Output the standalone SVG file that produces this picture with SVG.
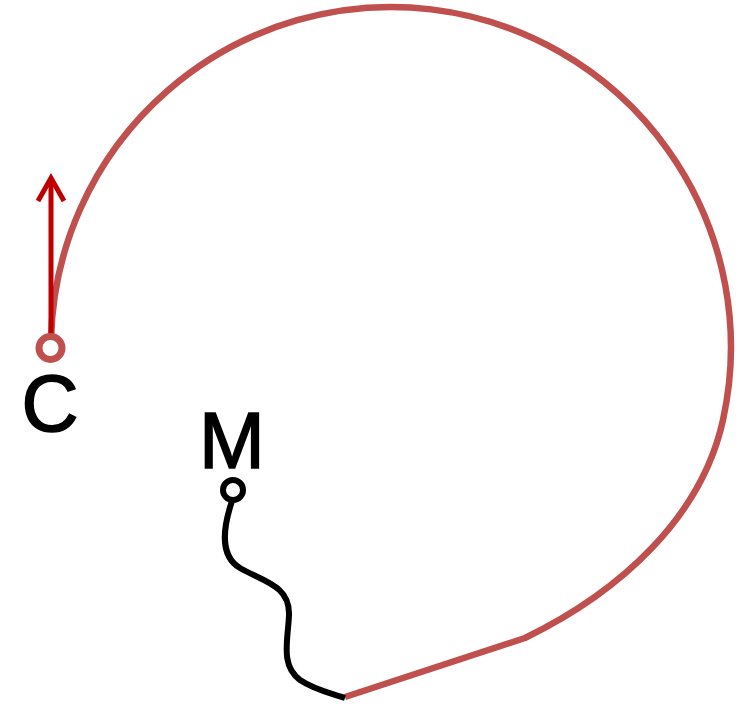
<svg xmlns="http://www.w3.org/2000/svg" width="746" height="706" viewBox="0 0 746 706">
  <defs>
    <style>
      .path-red { fill: none; stroke: #c0504d; stroke-width: 6.5; stroke-linejoin: round; }
      .path-black { fill: none; stroke: #000; stroke-width: 6; stroke-linecap: butt; }
      .arrow { fill: none; stroke: #c00000; stroke-width: 5; }
      .label { font-family: "Liberation Sans", Arial, sans-serif; font-size: 79px; fill: #000; stroke: #000; stroke-width: 1.6; text-anchor: middle; }
    </style>
  </defs>
  <g id="connectors">
    <path class="path-red" d="M 51,340 A 340 340 0 1 1 723,420 C 701.5,517.6 620,592 525,638 L 345,697"/>
    <path class="path-black" d="M 232,501 C 224,525 218,555 240,568 C 262,581 290,585 289,615 C 288,640 280,665 300,680 C 315,690 330,693 345,698"/>
    <path class="arrow" d="M 51,337 L 51,178"/>
    <path class="arrow" d="M 38,201 L 51,178 L 64,201" stroke-linejoin="miter"/>
  </g>
  <g id="node-C">
    <circle cx="50.5" cy="348" r="11.5" fill="#fff" stroke="#c0504d" stroke-width="7"/>
    <text class="label" x="50" y="431">C</text>
  </g>
  <g id="node-M">
    <circle cx="233" cy="490" r="10" fill="#fff" stroke="#000" stroke-width="6"/>
    <text class="label" x="232" y="468">M</text>
  </g>
</svg>
